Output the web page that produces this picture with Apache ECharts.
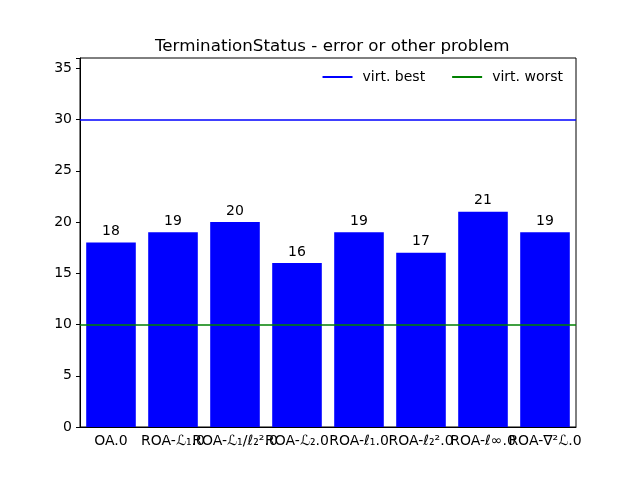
<!DOCTYPE html>
<html><head><meta charset="utf-8">
<script src="https://cdn.jsdelivr.net/npm/echarts@6/dist/echarts.min.js"></script>
<style>html,body{margin:0;padding:0;background:#fff}#c{width:640px;height:480px}</style>
</head><body><div id="c"></div>
<script>
const categories = ["OA.0", "ROA-ℒ₁.0", "ROA-ℒ₁/ℓ₂².0", "ROA-ℒ₂.0", "ROA-ℓ₁.0", "ROA-ℓ₂².0", "ROA-ℓ∞.0", "ROA-∇²ℒ.0"];
const values = [18, 19, 20, 16, 19, 17, 21, 19];
const virtBest = 30;
const virtWorst = 10;
const yTicks = [0, 5, 10, 15, 20, 25, 30, 35];

const font = "DejaVu Sans";
const chart = echarts.init(document.getElementById('c'));
chart.setOption({
  animation: false,
  textStyle: {fontFamily: font},
  title: {text: "TerminationStatus - error or other problem", left: 150, top: 33,
    textStyle: {fontFamily: font, fontSize: 16.7, fontWeight: 'normal', color: '#000'}},
  legend: {right: 72, top: 65, icon: 'rect', itemWidth: 30, itemHeight: 2, itemGap: 27,
    textStyle: {fontFamily: font, fontSize: 14, color: '#000', padding: [0, 0, 0, 5]},
    data: ['virt. best', 'virt. worst']},
  grid: {left: 80, right: 64, top: 58, bottom: 53, show: true, borderColor: '#000', borderWidth: 1, backgroundColor: 'transparent'},
  xAxis: {type: 'category', data: categories, boundaryGap: true,
    axisLine: {lineStyle: {color: '#000'}},
    axisTick: {alignWithLabel: true, length: 4, lineStyle: {color: '#000'}},
    axisLabel: {interval: 0, color: '#000', fontSize: 14, fontFamily: font, margin: 7},
    splitLine: {show: false}},
  yAxis: {type: 'value', min: 0, max: 36, interval: 5,
    axisLine: {show: true, lineStyle: {color: '#000'}},
    axisTick: {show: true, length: 4, lineStyle: {color: '#000'}},
    axisLabel: {color: '#000', fontSize: 14, fontFamily: font, margin: 8,
      formatter: v => yTicks.includes(v) ? String(v) : ''},
    splitLine: {show: false}},
  series: [
    {type: 'bar', name: 'TerminationStatus', data: values, barWidth: '80%',
      itemStyle: {color: '#0000ff'},
      label: {show: true, position: 'top', color: '#000', fontSize: 14, fontFamily: font, distance: 4}},
    {type: 'line', name: 'virt. best', data: [], symbol: 'none', itemStyle: {color: '#0000ff'}, lineStyle: {color: '#0000ff', width: 1.5},
      markLine: {silent: true, symbol: 'none', label: {show: false}, lineStyle: {color: '#0000ff', width: 1.5, type: 'solid'},
        data: [{yAxis: virtBest}]}},
    {type: 'line', name: 'virt. worst', data: [], symbol: 'none', itemStyle: {color: '#008000'}, lineStyle: {color: '#008000', width: 1.5},
      markLine: {silent: true, symbol: 'none', label: {show: false}, lineStyle: {color: '#008000', width: 1.5, type: 'solid'},
        data: [{yAxis: virtWorst}]}}
  ]
});
</script></body></html>
